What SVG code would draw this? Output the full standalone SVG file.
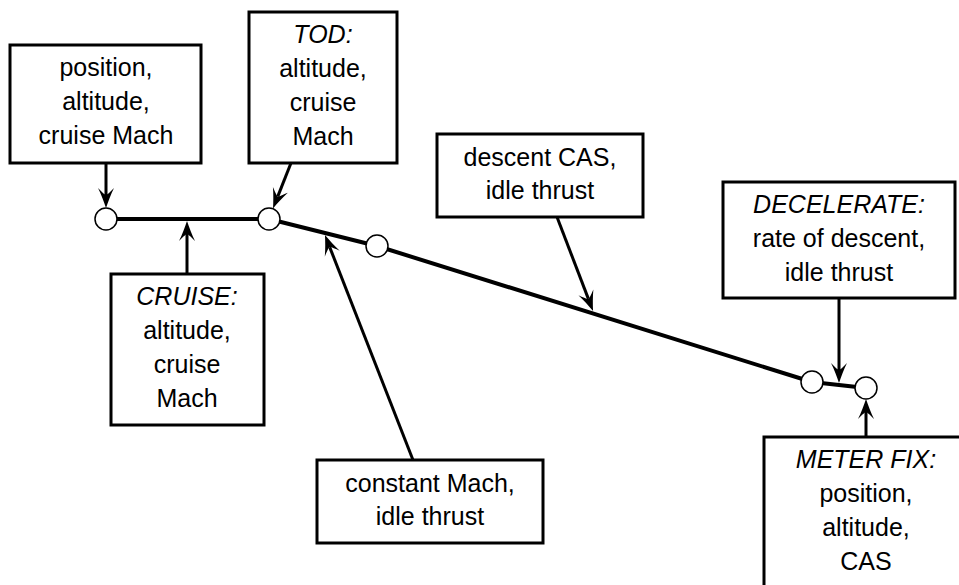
<svg xmlns="http://www.w3.org/2000/svg" width="959" height="585" viewBox="0 0 959 585">
<style>
.box{fill:#fff;stroke:#000;stroke-width:3}
.t{font-family:"Liberation Sans",Arial,sans-serif;font-size:25px;fill:#000;text-anchor:middle}
.i{font-style:italic}
.path{fill:none;stroke:#000;stroke-width:4;stroke-linejoin:round}
.pt{fill:#fff;stroke:#000;stroke-width:1.5}
.arr{fill:none;stroke:#000;stroke-width:3;marker-end:url(#ah)}
</style>
<defs>
<marker id="ah" markerUnits="userSpaceOnUse" viewBox="-8 -9 22 18" markerWidth="22" markerHeight="18" refX="0" refY="0" orient="auto" overflow="visible">
<path d="M13,0 C7,-2 -1,-5 -7,-8 C-2,-3 0,-1 0,0 C0,1 -2,3 -7,8 C-1,5 7,2 13,0 Z" fill="#000"/>
</marker>
</defs>
<g id="profile">
<polyline class="path" points="106,219 269,219 377,246 812,382 866,388"/>
</g>
<g id="connectors">
<line class="arr" x1="106" y1="163" x2="106" y2="195"/>
<line class="arr" x1="291" y1="163" x2="277.8" y2="196.4"/>
<line class="arr" x1="187" y1="274" x2="187" y2="234"/>
<line class="arr" x1="413" y1="460" x2="329.7" y2="247.1"/>
<line class="arr" x1="557" y1="217" x2="588.4" y2="298.9"/>
<line class="arr" x1="839" y1="298" x2="839" y2="370"/>
<line class="arr" x1="866" y1="437" x2="866" y2="412"/>
</g>
<g id="points">
<circle class="pt" cx="106" cy="219" r="11"/>
<circle class="pt" cx="269" cy="219" r="11"/>
<circle class="pt" cx="377" cy="246" r="11"/>
<circle class="pt" cx="812" cy="382" r="11"/>
<circle class="pt" cx="866" cy="388" r="11"/>
</g>
<g id="start">
<rect class="box" x="10" y="45" width="191" height="118"/>
<text class="t" x="106" y="76">position,</text>
<text class="t" x="106" y="110">altitude,</text>
<text class="t" x="106" y="144">cruise Mach</text>
</g>
<g id="tod">
<rect class="box" x="249" y="12" width="148" height="151"/>
<text class="t i" x="323" y="43">TOD:</text>
<text class="t" x="323" y="77">altitude,</text>
<text class="t" x="323" y="111">cruise</text>
<text class="t" x="323" y="145">Mach</text>
</g>
<g id="cruise">
<rect class="box" x="111" y="274" width="153" height="151"/>
<text class="t i" x="187" y="305">CRUISE:</text>
<text class="t" x="187" y="339">altitude,</text>
<text class="t" x="187" y="373">cruise</text>
<text class="t" x="187" y="407">Mach</text>
</g>
<g id="descent">
<rect class="box" x="437" y="134" width="206" height="83"/>
<text class="t" x="540" y="166">descent CAS,</text>
<text class="t" x="540" y="199">idle thrust</text>
</g>
<g id="constmach">
<rect class="box" x="317" y="460" width="226" height="83"/>
<text class="t" x="430" y="492">constant Mach,</text>
<text class="t" x="430" y="525">idle thrust</text>
</g>
<g id="decelerate">
<rect class="box" x="723" y="182" width="232" height="116"/>
<text class="t i" x="839" y="213">DECELERATE:</text>
<text class="t" x="839" y="247">rate of descent,</text>
<text class="t" x="839" y="281">idle thrust</text>
</g>
<g id="meterfix">
<rect class="box" x="764" y="437" width="210" height="160"/>
<text class="t i" x="866" y="468">METER FIX:</text>
<text class="t" x="866" y="502">position,</text>
<text class="t" x="866" y="536">altitude,</text>
<text class="t" x="866" y="570">CAS</text>
</g>
</svg>
